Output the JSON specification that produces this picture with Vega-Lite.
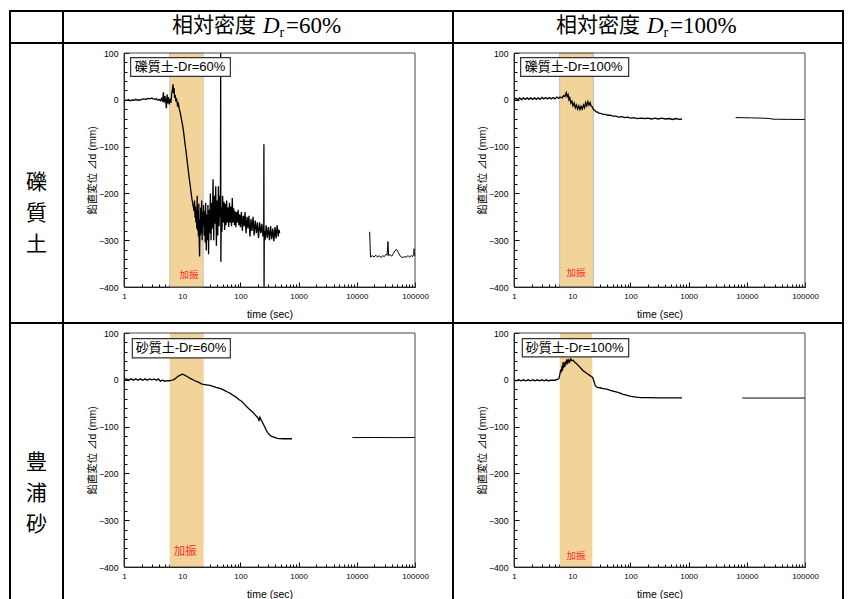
{
"$schema": "https://vega.github.io/schema/vega-lite/v6.json",
"background": "white",
"padding": {"left": 9, "top": 10, "right": 0, "bottom": -5},
"columns": 3,
"spacing": 0,
"bounds": "flush",
"align": "each",
"config": {
  "font": "Liberation Sans, Noto Sans CJK JP, sans-serif",
  "view": {"stroke": "black", "strokeWidth": 2},
  "concat": {"spacing": 0},
  "axis": {
    "labelFont": "Liberation Sans", "labelColor": "#000",
    "titleFont": "Liberation Sans, Noto Sans CJK JP", "titleFontSize": 10.5, "titleFontWeight": "normal", "titleColor": "#000",
    "domainColor": "#000", "domainWidth": 1, "tickColor": "#000", "tickWidth": 1,
    "grid": false, "labelFlush": false, "labelOverlap": false
  }
},
"datasets": {
  "p1": [
    {"t":1,"d":0,"seg":"main"},{"t":1.1,"d":-1,"seg":"main"},{"t":1.2,"d":0,"seg":"main"},{"t":1.3,"d":-2,"seg":"main"},{"t":1.4,"d":0,"seg":"main"},{"t":1.5,"d":-1,"seg":"main"},{"t":1.6,"d":1,"seg":"main"},{"t":1.7,"d":-1,"seg":"main"},{"t":1.8,"d":0,"seg":"main"},{"t":1.9,"d":-1,"seg":"main"},{"t":2.0,"d":1,"seg":"main"},{"t":2.2,"d":2,"seg":"main"},{"t":2.4,"d":1,"seg":"main"},{"t":2.6,"d":3,"seg":"main"},{"t":2.8,"d":2,"seg":"main"},{"t":3.0,"d":4,"seg":"main"},{"t":3.2,"d":2,"seg":"main"},{"t":3.4,"d":1,"seg":"main"},{"t":3.6,"d":2,"seg":"main"},{"t":3.8,"d":-1,"seg":"main"},{"t":4.0,"d":1,"seg":"main"},{"t":4.2,"d":-2,"seg":"main"},{"t":4.4,"d":3,"seg":"main"},{"t":4.6,"d":-4,"seg":"main"},{"t":4.75,"d":16,"seg":"main"},{"t":4.9,"d":-6,"seg":"main"},{"t":5.05,"d":8,"seg":"main"},{"t":5.2,"d":-2,"seg":"main"},{"t":5.35,"d":-18,"seg":"main"},{"t":5.5,"d":12,"seg":"main"},{"t":5.65,"d":-8,"seg":"main"},{"t":5.8,"d":6,"seg":"main"},{"t":6.0,"d":-10,"seg":"main"},{"t":6.2,"d":2,"seg":"main"},{"t":6.4,"d":-6,"seg":"main"},{"t":6.6,"d":14,"seg":"main"},{"t":6.8,"d":22,"seg":"main"},{"t":6.95,"d":33,"seg":"main"},{"t":7.1,"d":14,"seg":"main"},{"t":7.25,"d":25,"seg":"main"},{"t":7.4,"d":4,"seg":"main"},{"t":7.6,"d":10,"seg":"main"},{"t":7.8,"d":-4,"seg":"main"},{"t":8.0,"d":3,"seg":"main"},{"t":8.3,"d":-12,"seg":"main"},{"t":8.6,"d":-8,"seg":"main"},{"t":8.9,"d":-20,"seg":"main"},{"t":9.2,"d":-26,"seg":"main"},{"t":9.6,"d":-38,"seg":"main"},{"t":10.0,"d":-50,"seg":"main"},{"t":10.4,"d":-62,"seg":"main"},{"t":10.8,"d":-78,"seg":"main"},{"t":11.2,"d":-95,"seg":"main"},{"t":11.7,"d":-112,"seg":"main"},{"t":12.2,"d":-132,"seg":"main"},{"t":12.7,"d":-150,"seg":"main"},{"t":13.2,"d":-168,"seg":"main"},{"t":13.7,"d":-182,"seg":"main"},{"t":14.2,"d":-198,"seg":"main"},{"t":14.7,"d":-212,"seg":"main"},{"t":15.2,"d":-222,"seg":"main"},{"t":15.7,"d":-232,"seg":"main"},{"t":16.0,"d":-238,"seg":"main"},{"t":16.3,"d":-215,"seg":"main"},{"t":16.6,"d":-252,"seg":"main"},{"t":16.9,"d":-228,"seg":"main"},{"t":17.2,"d":-262,"seg":"main"},{"t":17.5,"d":-238,"seg":"main"},{"t":17.8,"d":-275,"seg":"main"},{"t":18.1,"d":-205,"seg":"main"},{"t":18.4,"d":-280,"seg":"main"},{"t":18.7,"d":-240,"seg":"main"},{"t":19.0,"d":-292,"seg":"main"},{"t":19.3,"d":-222,"seg":"main"},{"t":19.6,"d":-300,"seg":"main"},{"t":19.9,"d":-335,"seg":"main"},{"t":20.2,"d":-255,"seg":"main"},{"t":20.5,"d":-290,"seg":"main"},{"t":20.8,"d":-230,"seg":"main"},{"t":21.2,"d":-285,"seg":"main"},{"t":21.6,"d":-215,"seg":"main"},{"t":22.0,"d":-300,"seg":"main"},{"t":22.4,"d":-240,"seg":"main"},{"t":22.8,"d":-270,"seg":"main"},{"t":23.3,"d":-225,"seg":"main"},{"t":23.8,"d":-290,"seg":"main"},{"t":24.3,"d":-238,"seg":"main"},{"t":24.8,"d":-305,"seg":"main"},{"t":25.3,"d":-220,"seg":"main"},{"t":25.9,"d":-322,"seg":"main"},{"t":26.5,"d":-245,"seg":"main"},{"t":27.1,"d":-300,"seg":"main"},{"t":27.7,"d":-225,"seg":"main"},{"t":28.4,"d":-330,"seg":"main"},{"t":29.1,"d":-235,"seg":"main"},{"t":29.8,"d":-285,"seg":"main"},{"t":30.5,"d":-200,"seg":"main"},{"t":31.3,"d":-300,"seg":"main"},{"t":32.1,"d":-220,"seg":"main"},{"t":33.0,"d":-275,"seg":"main"},{"t":33.9,"d":-170,"seg":"main"},{"t":34.8,"d":-300,"seg":"main"},{"t":35.7,"d":-205,"seg":"main"},{"t":36.7,"d":-265,"seg":"main"},{"t":37.7,"d":-185,"seg":"main"},{"t":38.7,"d":-312,"seg":"main"},{"t":39.7,"d":-215,"seg":"main"},{"t":40.8,"d":-290,"seg":"main"},{"t":41.9,"d":-185,"seg":"main"},{"t":43.0,"d":-270,"seg":"main"},{"t":44.2,"d":-205,"seg":"main"},{"t":45.4,"d":-250,"seg":"main"},{"t":45.8,"d":100,"seg":"main"},{"t":46.2,"d":-346,"seg":"main"},{"t":47.0,"d":-230,"seg":"main"},{"t":48.2,"d":-282,"seg":"main"},{"t":49.5,"d":-205,"seg":"main"},{"t":50.8,"d":-262,"seg":"main"},{"t":52.2,"d":-218,"seg":"main"},{"t":53.6,"d":-278,"seg":"main"},{"t":55.0,"d":-222,"seg":"main"},{"t":56.5,"d":-268,"seg":"main"},{"t":58.0,"d":-215,"seg":"main"},{"t":59.6,"d":-262,"seg":"main"},{"t":61.2,"d":-230,"seg":"main"},{"t":63.0,"d":-272,"seg":"main"},{"t":64.8,"d":-220,"seg":"main"},{"t":66.6,"d":-262,"seg":"main"},{"t":68.5,"d":-228,"seg":"main"},{"t":70.5,"d":-270,"seg":"main"},{"t":72.5,"d":-210,"seg":"main"},{"t":74.6,"d":-262,"seg":"main"},{"t":76.8,"d":-232,"seg":"main"},{"t":79.0,"d":-268,"seg":"main"},{"t":81.3,"d":-238,"seg":"main"},{"t":83.7,"d":-272,"seg":"main"},{"t":86.2,"d":-240,"seg":"main"},{"t":88.8,"d":-262,"seg":"main"},{"t":91.5,"d":-235,"seg":"main"},{"t":94.3,"d":-268,"seg":"main"},{"t":97.2,"d":-245,"seg":"main"},{"t":100,"d":-272,"seg":"main"},{"t":104,"d":-240,"seg":"main"},{"t":108,"d":-280,"seg":"main"},{"t":112,"d":-248,"seg":"main"},{"t":116,"d":-270,"seg":"main"},{"t":120,"d":-240,"seg":"main"},{"t":125,"d":-285,"seg":"main"},{"t":130,"d":-250,"seg":"main"},{"t":135,"d":-275,"seg":"main"},{"t":140,"d":-248,"seg":"main"},{"t":146,"d":-292,"seg":"main"},{"t":152,"d":-255,"seg":"main"},{"t":158,"d":-280,"seg":"main"},{"t":165,"d":-250,"seg":"main"},{"t":172,"d":-290,"seg":"main"},{"t":180,"d":-258,"seg":"main"},{"t":188,"d":-285,"seg":"main"},{"t":196,"d":-262,"seg":"main"},{"t":205,"d":-295,"seg":"main"},{"t":214,"d":-262,"seg":"main"},{"t":224,"d":-285,"seg":"main"},{"t":234,"d":-265,"seg":"main"},{"t":244,"d":-292,"seg":"main"},{"t":252,"d":-268,"seg":"main"},{"t":253.5,"d":-95,"seg":"main"},{"t":255,"d":-400,"seg":"main"},{"t":257,"d":-280,"seg":"main"},{"t":266,"d":-300,"seg":"main"},{"t":277,"d":-268,"seg":"main"},{"t":289,"d":-295,"seg":"main"},{"t":302,"d":-272,"seg":"main"},{"t":316,"d":-300,"seg":"main"},{"t":330,"d":-270,"seg":"main"},{"t":345,"d":-298,"seg":"main"},{"t":360,"d":-275,"seg":"main"},{"t":376,"d":-302,"seg":"main"},{"t":393,"d":-272,"seg":"main"},{"t":410,"d":-296,"seg":"main"},{"t":428,"d":-268,"seg":"main"},{"t":447,"d":-292,"seg":"main"},{"t":460,"d":-278,"seg":"main"},{"t":473,"d":-285,"seg":"main"},
    {"t":16630,"d":-282,"seg":"post"},{"t":17200,"d":-336,"seg":"post"},{"t":18500,"d":-333,"seg":"post"},{"t":19800,"d":-336,"seg":"post"},{"t":21200,"d":-332,"seg":"post"},{"t":22700,"d":-336,"seg":"post"},{"t":24300,"d":-333,"seg":"post"},{"t":26000,"d":-337,"seg":"post"},{"t":27800,"d":-333,"seg":"post"},{"t":29700,"d":-335,"seg":"post"},{"t":31800,"d":-330,"seg":"post"},{"t":33200,"d":-332,"seg":"post"},{"t":34300,"d":-303,"seg":"post"},{"t":35200,"d":-333,"seg":"post"},{"t":37500,"d":-331,"seg":"post"},{"t":40000,"d":-334,"seg":"post"},{"t":42700,"d":-328,"seg":"post"},{"t":45500,"d":-322,"seg":"post"},{"t":48500,"d":-320,"seg":"post"},{"t":51700,"d":-326,"seg":"post"},{"t":55000,"d":-333,"seg":"post"},{"t":58700,"d":-336,"seg":"post"},{"t":62500,"d":-337,"seg":"post"},{"t":66600,"d":-335,"seg":"post"},{"t":71000,"d":-336,"seg":"post"},{"t":75700,"d":-333,"seg":"post"},{"t":80700,"d":-336,"seg":"post"},{"t":86000,"d":-333,"seg":"post"},{"t":91700,"d":-335,"seg":"post"},{"t":95000,"d":-330,"seg":"post"},{"t":96800,"d":-318,"seg":"post"},{"t":98500,"d":-333,"seg":"post"},{"t":100000,"d":-330,"seg":"post"}
  ],
  "p2": [
    {"t":1,"d":0,"seg":"pre"},{"t":1.08,"d":3,"seg":"pre"},{"t":1.16,"d":0,"seg":"pre"},{"t":1.25,"d":4,"seg":"pre"},{"t":1.35,"d":0,"seg":"pre"},{"t":1.45,"d":4,"seg":"pre"},{"t":1.56,"d":1,"seg":"pre"},{"t":1.68,"d":4,"seg":"pre"},{"t":1.8,"d":1,"seg":"pre"},{"t":1.94,"d":4,"seg":"pre"},{"t":2.09,"d":1,"seg":"pre"},{"t":2.25,"d":4,"seg":"pre"},{"t":2.42,"d":1,"seg":"pre"},{"t":2.6,"d":4,"seg":"pre"},{"t":2.8,"d":1,"seg":"pre"},{"t":3.0,"d":5,"seg":"pre"},{"t":3.25,"d":2,"seg":"pre"},{"t":3.5,"d":5,"seg":"pre"},{"t":3.75,"d":2,"seg":"pre"},{"t":4.05,"d":5,"seg":"pre"},{"t":4.35,"d":2,"seg":"pre"},{"t":4.7,"d":5,"seg":"pre"},{"t":5.05,"d":2,"seg":"pre"},{"t":5.45,"d":6,"seg":"pre"},{"t":5.85,"d":3,"seg":"pre"},{"t":6.3,"d":7,"seg":"pre"},
    {"t":6.3,"d":5,"seg":"main"},{"t":6.7,"d":4,"seg":"main"},{"t":7.1,"d":9,"seg":"main"},{"t":7.5,"d":7,"seg":"main"},{"t":7.9,"d":15,"seg":"main"},{"t":8.2,"d":7,"seg":"main"},{"t":8.5,"d":11,"seg":"main"},{"t":8.8,"d":0,"seg":"main"},{"t":9.1,"d":4,"seg":"main"},{"t":9.5,"d":-7,"seg":"main"},{"t":9.9,"d":-3,"seg":"main"},{"t":10.3,"d":-13,"seg":"main"},{"t":10.8,"d":-7,"seg":"main"},{"t":11.3,"d":-17,"seg":"main"},{"t":11.8,"d":-11,"seg":"main"},{"t":12.4,"d":-20,"seg":"main"},{"t":13.0,"d":-13,"seg":"main"},{"t":13.6,"d":-21,"seg":"main"},{"t":14.2,"d":-14,"seg":"main"},{"t":14.9,"d":-20,"seg":"main"},{"t":15.6,"d":-11,"seg":"main"},{"t":16.3,"d":-17,"seg":"main"},{"t":17.0,"d":-6,"seg":"main"},{"t":17.8,"d":-13,"seg":"main"},{"t":18.6,"d":-4,"seg":"main"},{"t":19.4,"d":-11,"seg":"main"},{"t":20.3,"d":-6,"seg":"main"},{"t":21.2,"d":-14,"seg":"main"},{"t":22.2,"d":-15,"seg":"main"},{"t":23.2,"d":-21,"seg":"main"},{"t":24.3,"d":-22,"seg":"main"},{"t":25.5,"d":-26,"seg":"main"},{"t":27,"d":-26,"seg":"main"},{"t":29,"d":-29,"seg":"main"},{"t":31,"d":-29,"seg":"main"},{"t":34,"d":-31,"seg":"main"},{"t":37,"d":-31,"seg":"main"},{"t":41,"d":-33,"seg":"main"},{"t":45,"d":-33,"seg":"main"},{"t":50,"d":-35,"seg":"main"},{"t":56,"d":-35,"seg":"main"},{"t":63,"d":-37,"seg":"main"},{"t":71,"d":-36,"seg":"main"},{"t":80,"d":-38,"seg":"main"},{"t":90,"d":-37,"seg":"main"},{"t":100,"d":-39,"seg":"main"},{"t":115,"d":-38,"seg":"main"},{"t":130,"d":-40,"seg":"main"},{"t":150,"d":-39,"seg":"main"},{"t":175,"d":-40,"seg":"main"},{"t":200,"d":-39,"seg":"main"},{"t":230,"d":-41,"seg":"main"},{"t":265,"d":-39,"seg":"main"},{"t":300,"d":-41,"seg":"main"},{"t":345,"d":-39,"seg":"main"},{"t":400,"d":-41,"seg":"main"},{"t":460,"d":-40,"seg":"main"},{"t":530,"d":-42,"seg":"main"},{"t":610,"d":-40,"seg":"main"},{"t":690,"d":-42,"seg":"main"},{"t":771,"d":-41,"seg":"main"},
    {"t":6440,"d":-38,"seg":"post"},{"t":9000,"d":-38.3,"seg":"post"},{"t":12000,"d":-38.6,"seg":"post"},{"t":16000,"d":-39,"seg":"post"},{"t":20000,"d":-39.4,"seg":"post"},{"t":25000,"d":-40,"seg":"post"},{"t":28200,"d":-41.5,"seg":"post"},{"t":35000,"d":-41.6,"seg":"post"},{"t":50000,"d":-41.8,"seg":"post"},{"t":70000,"d":-41.9,"seg":"post"},{"t":100000,"d":-42,"seg":"post"}
  ],
  "p3": [
    {"t":1,"d":0,"seg":"pre"},{"t":1.1,"d":2,"seg":"pre"},{"t":1.2,"d":-1,"seg":"pre"},{"t":1.32,"d":2,"seg":"pre"},{"t":1.45,"d":-1,"seg":"pre"},{"t":1.6,"d":2,"seg":"pre"},{"t":1.75,"d":-1,"seg":"pre"},{"t":1.92,"d":2,"seg":"pre"},{"t":2.1,"d":-1,"seg":"pre"},{"t":2.3,"d":2,"seg":"pre"},{"t":2.5,"d":-1,"seg":"pre"},{"t":2.75,"d":2,"seg":"pre"},{"t":3.0,"d":0,"seg":"pre"},{"t":3.3,"d":2,"seg":"pre"},{"t":3.6,"d":-1,"seg":"pre"},{"t":3.9,"d":2,"seg":"pre"},{"t":4.2,"d":-3,"seg":"pre"},{"t":4.6,"d":-1,"seg":"pre"},{"t":5.0,"d":-3,"seg":"pre"},{"t":5.5,"d":-2,"seg":"pre"},{"t":6.0,"d":-2,"seg":"pre"},{"t":6.5,"d":-1,"seg":"pre"},
    {"t":6.5,"d":-1,"seg":"main"},{"t":7.0,"d":0,"seg":"main"},{"t":7.5,"d":2,"seg":"main"},{"t":8.0,"d":5,"seg":"main"},{"t":8.6,"d":8,"seg":"main"},{"t":9.3,"d":10,"seg":"main"},{"t":10.0,"d":12,"seg":"main"},{"t":10.6,"d":11,"seg":"main"},{"t":11.3,"d":9,"seg":"main"},{"t":12.2,"d":7,"seg":"main"},{"t":13.2,"d":4,"seg":"main"},{"t":14.3,"d":2,"seg":"main"},{"t":15.5,"d":0,"seg":"main"},{"t":17,"d":-3,"seg":"main"},{"t":19,"d":-5,"seg":"main"},{"t":21,"d":-8,"seg":"main"},{"t":23,"d":-10,"seg":"main"},{"t":26,"d":-11,"seg":"main"},{"t":30,"d":-12,"seg":"main"},{"t":34,"d":-14,"seg":"main"},{"t":38,"d":-16,"seg":"main"},{"t":43,"d":-18,"seg":"main"},{"t":48,"d":-20,"seg":"main"},{"t":54,"d":-23,"seg":"main"},{"t":60,"d":-26,"seg":"main"},{"t":67,"d":-29,"seg":"main"},{"t":75,"d":-33,"seg":"main"},{"t":84,"d":-37,"seg":"main"},{"t":94,"d":-42,"seg":"main"},{"t":105,"d":-46,"seg":"main"},{"t":117,"d":-52,"seg":"main"},{"t":130,"d":-58,"seg":"main"},{"t":146,"d":-64,"seg":"main"},{"t":165,"d":-70,"seg":"main"},{"t":180,"d":-75,"seg":"main"},{"t":192,"d":-79,"seg":"main"},{"t":204,"d":-83,"seg":"main"},{"t":209,"d":-88,"seg":"main"},{"t":216,"d":-80,"seg":"main"},{"t":228,"d":-86,"seg":"main"},{"t":244,"d":-93,"seg":"main"},{"t":262,"d":-101,"seg":"main"},{"t":279,"d":-108,"seg":"main"},{"t":298,"d":-114,"seg":"main"},{"t":318,"d":-118,"seg":"main"},{"t":345,"d":-121,"seg":"main"},{"t":387,"d":-123,"seg":"main"},{"t":430,"d":-125,"seg":"main"},{"t":473,"d":-125.5,"seg":"main"},{"t":560,"d":-126,"seg":"main"},{"t":660,"d":-126,"seg":"main"},{"t":771,"d":-126,"seg":"main"},
    {"t":8380,"d":-123.5,"seg":"post"},{"t":20000,"d":-123.3,"seg":"post"},{"t":50000,"d":-123.6,"seg":"post"},{"t":100000,"d":-123.2,"seg":"post"}
  ],
  "p4": [
    {"t":1,"d":0,"seg":"pre"},{"t":1.1,"d":-2,"seg":"pre"},{"t":1.2,"d":0,"seg":"pre"},{"t":1.32,"d":-2,"seg":"pre"},{"t":1.45,"d":0,"seg":"pre"},{"t":1.6,"d":-2,"seg":"pre"},{"t":1.75,"d":0,"seg":"pre"},{"t":1.92,"d":-2,"seg":"pre"},{"t":2.1,"d":0,"seg":"pre"},{"t":2.3,"d":-2,"seg":"pre"},{"t":2.5,"d":0,"seg":"pre"},{"t":2.75,"d":-2,"seg":"pre"},{"t":3.0,"d":0,"seg":"pre"},{"t":3.3,"d":-2,"seg":"pre"},{"t":3.6,"d":0,"seg":"pre"},{"t":3.9,"d":-2,"seg":"pre"},{"t":4.3,"d":-1,"seg":"pre"},{"t":4.7,"d":-1,"seg":"pre"},{"t":5.1,"d":-1,"seg":"pre"},{"t":5.5,"d":1,"seg":"pre"},{"t":5.9,"d":2,"seg":"pre"},
    {"t":5.9,"d":2,"seg":"main"},{"t":6.15,"d":12,"seg":"main"},{"t":6.35,"d":22,"seg":"main"},{"t":6.5,"d":16,"seg":"main"},{"t":6.7,"d":30,"seg":"main"},{"t":6.85,"d":20,"seg":"main"},{"t":7.0,"d":38,"seg":"main"},{"t":7.15,"d":26,"seg":"main"},{"t":7.35,"d":36,"seg":"main"},{"t":7.5,"d":28,"seg":"main"},{"t":7.7,"d":40,"seg":"main"},{"t":7.9,"d":33,"seg":"main"},{"t":8.1,"d":44,"seg":"main"},{"t":8.4,"d":36,"seg":"main"},{"t":8.7,"d":42,"seg":"main"},{"t":9.0,"d":38,"seg":"main"},{"t":9.4,"d":45,"seg":"main"},{"t":9.8,"d":41,"seg":"main"},{"t":10.3,"d":42,"seg":"main"},{"t":11,"d":38,"seg":"main"},{"t":11.8,"d":35,"seg":"main"},{"t":12.6,"d":31,"seg":"main"},{"t":13.5,"d":27,"seg":"main"},{"t":14.5,"d":23,"seg":"main"},{"t":15.5,"d":19,"seg":"main"},{"t":16.8,"d":16,"seg":"main"},{"t":18.2,"d":13,"seg":"main"},{"t":19.7,"d":10,"seg":"main"},{"t":21.2,"d":7,"seg":"main"},{"t":22.5,"d":5,"seg":"main"},{"t":23.5,"d":-2,"seg":"main"},{"t":24.5,"d":-10,"seg":"main"},{"t":25.5,"d":-14,"seg":"main"},{"t":27,"d":-16,"seg":"main"},{"t":30,"d":-17,"seg":"main"},{"t":34,"d":-19,"seg":"main"},{"t":39,"d":-20,"seg":"main"},{"t":44,"d":-22,"seg":"main"},{"t":50,"d":-24,"seg":"main"},{"t":57,"d":-26,"seg":"main"},{"t":65,"d":-28,"seg":"main"},{"t":75,"d":-31,"seg":"main"},{"t":86,"d":-33,"seg":"main"},{"t":97,"d":-35,"seg":"main"},{"t":110,"d":-36,"seg":"main"},{"t":126,"d":-37,"seg":"main"},{"t":150,"d":-38,"seg":"main"},{"t":200,"d":-38,"seg":"main"},{"t":300,"d":-38.5,"seg":"main"},{"t":450,"d":-38.5,"seg":"main"},{"t":600,"d":-38.5,"seg":"main"},{"t":771,"d":-38.5,"seg":"main"},
    {"t":8380,"d":-39,"seg":"post"},{"t":100000,"d":-39,"seg":"post"}
  ]
},
"concat": [
  {"width": 53, "height": 32, "view": {"stroke": "black", "strokeWidth": 2}, "data": {"values": [{}]}, "mark": {"type": "text", "text": ""}},
  {"width": 390, "height": 32, "view": {"stroke": "black", "strokeWidth": 2}, "data": {"values": [{"a": "相対密度", "b": "D", "c": "r", "d": "=60%"}]},
   "layer": [
    {"mark": {"type": "text", "align": "right", "baseline": "alphabetic", "dx": -2, "dy": 4.5, "font": "Noto Sans CJK JP", "fontSize": 21, "color": "#000"}, "encoding": {"text": {"field": "a"}}},
    {"mark": {"type": "text", "align": "left", "baseline": "alphabetic", "dx": 5, "dy": 6.3, "font": "Liberation Serif", "fontStyle": "italic", "fontSize": 23, "color": "#000"}, "encoding": {"text": {"field": "b"}}},
    {"mark": {"type": "text", "align": "left", "baseline": "alphabetic", "dx": 21.5, "dy": 9.5, "font": "Liberation Serif", "fontSize": 14, "color": "#000"}, "encoding": {"text": {"field": "c"}}},
    {"mark": {"type": "text", "align": "left", "baseline": "alphabetic", "dx": 28, "dy": 6.3, "font": "Liberation Serif", "fontSize": 23, "color": "#000"}, "encoding": {"text": {"field": "d"}}}
   ]},
  {"width": 390, "height": 32, "view": {"stroke": "black", "strokeWidth": 2}, "data": {"values": [{"a": "相対密度", "b": "D", "c": "r", "d": "=100%"}]},
   "layer": [
    {"mark": {"type": "text", "align": "right", "baseline": "alphabetic", "dx": -8, "dy": 4.5, "font": "Noto Sans CJK JP", "fontSize": 21, "color": "#000"}, "encoding": {"text": {"field": "a"}}},
    {"mark": {"type": "text", "align": "left", "baseline": "alphabetic", "dx": -1, "dy": 6.3, "font": "Liberation Serif", "fontStyle": "italic", "fontSize": 23, "color": "#000"}, "encoding": {"text": {"field": "b"}}},
    {"mark": {"type": "text", "align": "left", "baseline": "alphabetic", "dx": 15.5, "dy": 9.5, "font": "Liberation Serif", "fontSize": 14, "color": "#000"}, "encoding": {"text": {"field": "c"}}},
    {"mark": {"type": "text", "align": "left", "baseline": "alphabetic", "dx": 22, "dy": 6.3, "font": "Liberation Serif", "fontSize": 23, "color": "#000"}, "encoding": {"text": {"field": "d"}}}
   ]},
  {"width": 53, "height": 280, "view": {"stroke": "black", "strokeWidth": 2}, "data": {"values": [{}]}, "mark": {"type": "text", "text": ["礫", "質", "土"], "lineHeight": 31, "fontSize": 21, "baseline": "middle", "align": "center", "font": "Noto Sans CJK JP", "color": "#000"}},
  {"width": 390, "height": 280,
   "layer": [
    {"data": {"values": [{}]}, "mark": {"type": "rect", "fill": "#f2d49a", "stroke": "#c4c4c4", "strokeWidth": 0.8}, "encoding": {"x": {"datum": 6.09, "type": "quantitative"}, "x2": {"datum": 23.1}, "y": {"datum": -400, "type": "quantitative"}, "y2": {"datum": 100}}},
    {"data": {"name": "p1"}, "mark": {"type": "line"},
     "encoding": {
      "x": {"field": "t", "type": "quantitative", "scale": {"type": "log", "domain": [1, 100000], "range": [61, 352]},
            "axis": {"orient": "bottom", "offset": -36, "tickCount": 100, "values": [1,2,3,4,5,6,7,8,9,10,20,30,40,50,60,70,80,90,100,200,300,400,500,600,700,800,900,1000,2000,3000,4000,5000,6000,7000,8000,9000,10000,20000,30000,40000,50000,60000,70000,80000,90000,100000], "format": "d", "labelExpr": "indexof([1,10,100,1000,10000,100000], datum.value) >= 0 ? datum.label : ''", "tickSize": {"condition": {"test": "indexof([1,10,100,1000,10000,100000], datum.value) >= 0", "value": -5}, "value": -3}, "labelPadding": 10, "labelFontSize": 8, "labelOverlap": false, "labelFlush": false, "title": "time (sec)", "titlePadding": 7}},
      "y": {"field": "d", "type": "quantitative", "scale": {"domain": [-400, 100], "range": [244, 10], "nice": false},
            "axis": {"orient": "left", "offset": -61, "tickCount": 100, "values": [-400,-380,-360,-340,-320,-300,-280,-260,-240,-220,-200,-180,-160,-140,-120,-100,-80,-60,-40,-20,0,20,40,60,80,100], "labelExpr": "indexof([-400,-300,-200,-100,0,100], datum.value) >= 0 ? datum.label : ''", "tickSize": {"condition": {"test": "indexof([-400,-300,-200,-100,0,100], datum.value) >= 0", "value": -5}, "value": -3}, "labelPadding": 11, "labelFontSize": 8.7, "labelOverlap": false, "labelFlush": false, "title": "鉛直変位  ⊿d (mm)", "titlePadding": 1}},
      "detail": {"field": "seg"},
      "color": {"field": "seg", "type": "nominal", "scale": {"domain": ["pre", "main", "post"], "range": ["#000", "#000", "#000"]}, "legend": null},
      "strokeWidth": {"field": "seg", "type": "nominal", "scale": {"type": "ordinal", "domain": ["pre", "main", "post"], "range": [1.3, 1.3, 1]}, "legend": null}
     }},
    {"data": {"values": [{"name": "礫質土-Dr=60%"}]}, "mark": {"type": "rect", "fill": "white", "stroke": "#333", "strokeWidth": 1.2}, "encoding": {"x": {"datum": 1.3}, "x2": {"datum": 67.2}, "y": {"datum": 90}, "y2": {"datum": 50.2}}},
    {"data": {"values": [{"name": "礫質土-Dr=60%"}]}, "mark": {"type": "text", "align": "left", "baseline": "middle", "fontSize": 13, "color": "#000"}, "encoding": {"x": {"datum": 1.525}, "y": {"datum": 70}, "text": {"field": "name"}}},
    {"data": {"values": [{"name": "加振"}]}, "mark": {"type": "text", "align": "center", "baseline": "middle", "fontSize": 9.5, "color": "#ff2a2a"}, "encoding": {"x": {"datum": 13.1}, "y": {"datum": -374}, "text": {"field": "name"}}},
    {"data": {"values": [{}]}, "mark": {"type": "rect", "fill": "white", "fillOpacity": 0, "stroke": "#444", "strokeWidth": 1}, "encoding": {"x": {"datum": 1}, "x2": {"datum": 100000}, "y": {"datum": -400}, "y2": {"datum": 100}}}
   ]},
  {"width": 390, "height": 280,
   "layer": [
    {"data": {"values": [{}]}, "mark": {"type": "rect", "fill": "#f2d49a", "stroke": "#b0b0b0", "strokeWidth": 0.8}, "encoding": {"x": {"datum": 6.09, "type": "quantitative"}, "x2": {"datum": 23.1}, "y": {"datum": -400, "type": "quantitative"}, "y2": {"datum": 100}}},
    {"data": {"name": "p2"}, "mark": {"type": "line"},
     "encoding": {
      "x": {"field": "t", "type": "quantitative", "scale": {"type": "log", "domain": [1, 100000], "range": [61, 352]},
            "axis": {"orient": "bottom", "offset": -36, "tickCount": 100, "values": [1,2,3,4,5,6,7,8,9,10,20,30,40,50,60,70,80,90,100,200,300,400,500,600,700,800,900,1000,2000,3000,4000,5000,6000,7000,8000,9000,10000,20000,30000,40000,50000,60000,70000,80000,90000,100000], "format": "d", "labelExpr": "indexof([1,10,100,1000,10000,100000], datum.value) >= 0 ? datum.label : ''", "tickSize": {"condition": {"test": "indexof([1,10,100,1000,10000,100000], datum.value) >= 0", "value": -5}, "value": -3}, "labelPadding": 10, "labelFontSize": 8, "labelOverlap": false, "labelFlush": false, "title": "time (sec)", "titlePadding": 7}},
      "y": {"field": "d", "type": "quantitative", "scale": {"domain": [-400, 100], "range": [244, 10], "nice": false},
            "axis": {"orient": "left", "offset": -61, "tickCount": 100, "values": [-400,-380,-360,-340,-320,-300,-280,-260,-240,-220,-200,-180,-160,-140,-120,-100,-80,-60,-40,-20,0,20,40,60,80,100], "labelExpr": "indexof([-400,-300,-200,-100,0,100], datum.value) >= 0 ? datum.label : ''", "tickSize": {"condition": {"test": "indexof([-400,-300,-200,-100,0,100], datum.value) >= 0", "value": -5}, "value": -3}, "labelPadding": 11, "labelFontSize": 8.7, "labelOverlap": false, "labelFlush": false, "title": "鉛直変位  ⊿d (mm)", "titlePadding": 1}},
      "detail": {"field": "seg"},
      "color": {"field": "seg", "type": "nominal", "scale": {"domain": ["pre", "main", "post"], "range": ["#000", "#000", "#555"]}, "legend": null},
      "strokeWidth": {"field": "seg", "type": "nominal", "scale": {"type": "ordinal", "domain": ["pre", "main", "post"], "range": [1.5, 4.5, 1]}, "legend": null}
     }},
    {"data": {"values": [{"name": "礫質土-Dr=100%"}]}, "mark": {"type": "rect", "fill": "white", "stroke": "#333", "strokeWidth": 1.2}, "encoding": {"x": {"datum": 1.3}, "x2": {"datum": 93.4}, "y": {"datum": 90}, "y2": {"datum": 50.2}}},
    {"data": {"values": [{"name": "礫質土-Dr=100%"}]}, "mark": {"type": "text", "align": "left", "baseline": "middle", "fontSize": 13, "color": "#000"}, "encoding": {"x": {"datum": 1.525}, "y": {"datum": 70}, "text": {"field": "name"}}},
    {"data": {"values": [{"name": "加振"}]}, "mark": {"type": "text", "align": "center", "baseline": "middle", "fontSize": 9.5, "color": "#ff2a2a"}, "encoding": {"x": {"datum": 11.6}, "y": {"datum": -371}, "text": {"field": "name"}}},
    {"data": {"values": [{}]}, "mark": {"type": "rect", "fill": "white", "fillOpacity": 0, "stroke": "#444", "strokeWidth": 1}, "encoding": {"x": {"datum": 1}, "x2": {"datum": 100000}, "y": {"datum": -400}, "y2": {"datum": 100}}}
   ]},
  {"width": 53, "height": 280, "view": {"stroke": "black", "strokeWidth": 2}, "data": {"values": [{}]}, "mark": {"type": "text", "text": ["豊", "浦", "砂"], "lineHeight": 31, "fontSize": 21, "baseline": "middle", "align": "center", "font": "Noto Sans CJK JP", "color": "#000"}},
  {"width": 390, "height": 280,
   "layer": [
    {"data": {"values": [{}]}, "mark": {"type": "rect", "fill": "#f2d49a"}, "encoding": {"x": {"datum": 6.09, "type": "quantitative"}, "x2": {"datum": 23.4}, "y": {"datum": -400, "type": "quantitative"}, "y2": {"datum": 100}}},
    {"data": {"name": "p3"}, "mark": {"type": "line"},
     "encoding": {
      "x": {"field": "t", "type": "quantitative", "scale": {"type": "log", "domain": [1, 100000], "range": [61, 352]},
            "axis": {"orient": "bottom", "offset": -36, "tickCount": 100, "values": [1,2,3,4,5,6,7,8,9,10,20,30,40,50,60,70,80,90,100,200,300,400,500,600,700,800,900,1000,2000,3000,4000,5000,6000,7000,8000,9000,10000,20000,30000,40000,50000,60000,70000,80000,90000,100000], "format": "d", "labelExpr": "indexof([1,10,100,1000,10000,100000], datum.value) >= 0 ? datum.label : ''", "tickSize": {"condition": {"test": "indexof([1,10,100,1000,10000,100000], datum.value) >= 0", "value": -5}, "value": -3}, "labelPadding": 10, "labelFontSize": 8, "labelOverlap": false, "labelFlush": false, "title": "time (sec)", "titlePadding": 7}},
      "y": {"field": "d", "type": "quantitative", "scale": {"domain": [-400, 100], "range": [244, 10], "nice": false},
            "axis": {"orient": "left", "offset": -61, "tickCount": 100, "values": [-400,-380,-360,-340,-320,-300,-280,-260,-240,-220,-200,-180,-160,-140,-120,-100,-80,-60,-40,-20,0,20,40,60,80,100], "labelExpr": "indexof([-400,-300,-200,-100,0,100], datum.value) >= 0 ? datum.label : ''", "tickSize": {"condition": {"test": "indexof([-400,-300,-200,-100,0,100], datum.value) >= 0", "value": -5}, "value": -3}, "labelPadding": 11, "labelFontSize": 8.7, "labelOverlap": false, "labelFlush": false, "title": "鉛直変位  ⊿d (mm)", "titlePadding": 1}},
      "detail": {"field": "seg"},
      "color": {"field": "seg", "type": "nominal", "scale": {"domain": ["pre", "main", "post"], "range": ["#000", "#000", "#555"]}, "legend": null},
      "strokeWidth": {"field": "seg", "type": "nominal", "scale": {"type": "ordinal", "domain": ["pre", "main", "post"], "range": [1.5, 4, 1.2]}, "legend": null}
     }},
    {"data": {"values": [{"name": "砂質土-Dr=60%"}]}, "mark": {"type": "rect", "fill": "white", "stroke": "#333", "strokeWidth": 1.2}, "encoding": {"x": {"datum": 1.39}, "x2": {"datum": 67.2}, "y": {"datum": 88}, "y2": {"datum": 46.7}}},
    {"data": {"values": [{"name": "砂質土-Dr=60%"}]}, "mark": {"type": "text", "align": "left", "baseline": "middle", "fontSize": 13, "color": "#000"}, "encoding": {"x": {"datum": 1.586}, "y": {"datum": 67.3}, "text": {"field": "name"}}},
    {"data": {"values": [{"name": "加振"}]}, "mark": {"type": "text", "align": "center", "baseline": "middle", "fontSize": 11.5, "color": "#ff2a2a"}, "encoding": {"x": {"datum": 11.3}, "y": {"datum": -367}, "text": {"field": "name"}}},
    {"data": {"values": [{}]}, "mark": {"type": "rect", "fill": "white", "fillOpacity": 0, "stroke": "#444", "strokeWidth": 1}, "encoding": {"x": {"datum": 1}, "x2": {"datum": 100000}, "y": {"datum": -400}, "y2": {"datum": 100}}}
   ]},
  {"width": 390, "height": 280,
   "layer": [
    {"data": {"values": [{}]}, "mark": {"type": "rect", "fill": "#f2d49a"}, "encoding": {"x": {"datum": 6.09, "type": "quantitative"}, "x2": {"datum": 22.2}, "y": {"datum": -400, "type": "quantitative"}, "y2": {"datum": 100}}},
    {"data": {"name": "p4"}, "mark": {"type": "line"},
     "encoding": {
      "x": {"field": "t", "type": "quantitative", "scale": {"type": "log", "domain": [1, 100000], "range": [61, 352]},
            "axis": {"orient": "bottom", "offset": -36, "tickCount": 100, "values": [1,2,3,4,5,6,7,8,9,10,20,30,40,50,60,70,80,90,100,200,300,400,500,600,700,800,900,1000,2000,3000,4000,5000,6000,7000,8000,9000,10000,20000,30000,40000,50000,60000,70000,80000,90000,100000], "format": "d", "labelExpr": "indexof([1,10,100,1000,10000,100000], datum.value) >= 0 ? datum.label : ''", "tickSize": {"condition": {"test": "indexof([1,10,100,1000,10000,100000], datum.value) >= 0", "value": -5}, "value": -3}, "labelPadding": 10, "labelFontSize": 8, "labelOverlap": false, "labelFlush": false, "title": "time (sec)", "titlePadding": 7}},
      "y": {"field": "d", "type": "quantitative", "scale": {"domain": [-400, 100], "range": [244, 10], "nice": false},
            "axis": {"orient": "left", "offset": -61, "tickCount": 100, "values": [-400,-380,-360,-340,-320,-300,-280,-260,-240,-220,-200,-180,-160,-140,-120,-100,-80,-60,-40,-20,0,20,40,60,80,100], "labelExpr": "indexof([-400,-300,-200,-100,0,100], datum.value) >= 0 ? datum.label : ''", "tickSize": {"condition": {"test": "indexof([-400,-300,-200,-100,0,100], datum.value) >= 0", "value": -5}, "value": -3}, "labelPadding": 11, "labelFontSize": 8.7, "labelOverlap": false, "labelFlush": false, "title": "鉛直変位  ⊿d (mm)", "titlePadding": 1}},
      "detail": {"field": "seg"},
      "color": {"field": "seg", "type": "nominal", "scale": {"domain": ["pre", "main", "post"], "range": ["#000", "#000", "#777"]}, "legend": null},
      "strokeWidth": {"field": "seg", "type": "nominal", "scale": {"type": "ordinal", "domain": ["pre", "main", "post"], "range": [1.5, 4, 2]}, "legend": null}
     }},
    {"data": {"values": [{"name": "砂質土-Dr=100%"}]}, "mark": {"type": "rect", "fill": "white", "stroke": "#333", "strokeWidth": 1.2}, "encoding": {"x": {"datum": 1.39}, "x2": {"datum": 93.4}, "y": {"datum": 88}, "y2": {"datum": 48.8}}},
    {"data": {"values": [{"name": "砂質土-Dr=100%"}]}, "mark": {"type": "text", "align": "left", "baseline": "middle", "fontSize": 13, "color": "#000"}, "encoding": {"x": {"datum": 1.586}, "y": {"datum": 68.5}, "text": {"field": "name"}}},
    {"data": {"values": [{"name": "加振"}]}, "mark": {"type": "text", "align": "center", "baseline": "middle", "fontSize": 9.5, "color": "#ff2a2a"}, "encoding": {"x": {"datum": 11.6}, "y": {"datum": -376}, "text": {"field": "name"}}},
    {"data": {"values": [{}]}, "mark": {"type": "rect", "fill": "white", "fillOpacity": 0, "stroke": "#444", "strokeWidth": 1}, "encoding": {"x": {"datum": 1}, "x2": {"datum": 100000}, "y": {"datum": -400}, "y2": {"datum": 100}}}
   ]}
]
}
